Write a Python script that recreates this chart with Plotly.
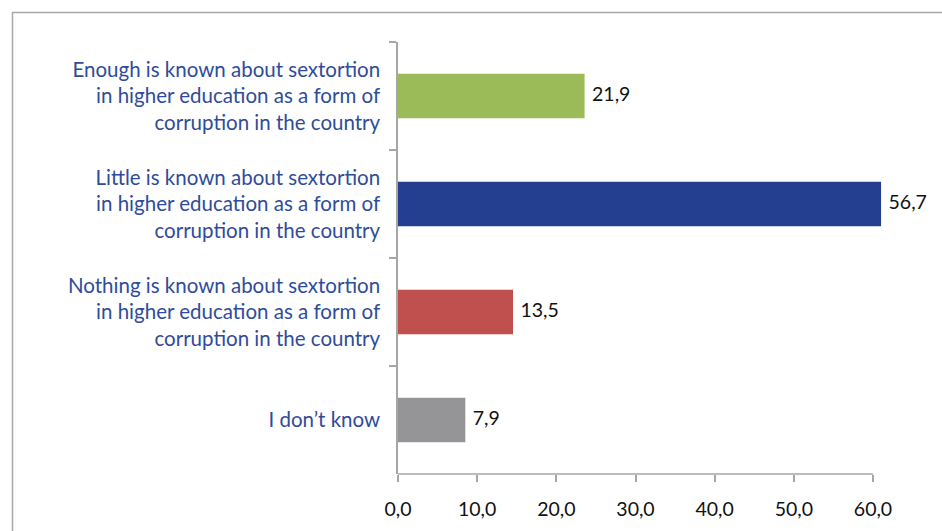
import plotly.graph_objects as go

categories = [
    "Enough is known about sextortion<br>in higher education as a form of<br>corruption in the country",
    "Little is known about sextortion<br>in higher education as a form of<br>corruption in the country",
    "Nothing is known about sextortion<br>in higher education as a form of<br>corruption in the country",
    "I don’t know",
]
values = [21.9, 56.7, 13.5, 7.9]
colors = ["#9BBB59", "#243F8F", "#C0504D", "#959598"]
tick_vals = [0, 10, 20, 30, 40, 50, 60]

# plot area spans pixels 398..940; the value axis reaches 60 at px 873,
# while the bars in the source graphic are drawn at ~8.52 px per unit
PLOT_L, PLOT_R = 398, 940
axis_max = (PLOT_R - PLOT_L) / ((873 - 398) / 60)
bar_max = (PLOT_R - PLOT_L) / 8.52

fig = go.Figure()
fig.add_trace(go.Bar(
    y=categories, x=values, orientation="h",
    marker=dict(color=colors, line=dict(width=0)),
    xaxis="x2", yaxis="y", showlegend=False, hoverinfo="skip",
))
fig.add_trace(go.Scatter(
    y=categories, x=values, mode="text",
    text=[" \u2009" + f"{v:.1f}".replace(".", ",") for v in values],
    textposition="middle right",
    textfont=dict(color="#111111", size=19.5, family="Lato"),
    xaxis="x2", yaxis="y", showlegend=False, hoverinfo="skip",
))
# invisible helper so the visible value axis is drawn
fig.add_trace(go.Scatter(
    x=tick_vals, y=[categories[-1]] * len(tick_vals), mode="markers",
    marker=dict(opacity=0), xaxis="x", yaxis="y",
    showlegend=False, hoverinfo="skip",
))

fig.update_layout(
    width=942, height=531,
    margin=dict(l=PLOT_L, r=942 - PLOT_R, t=42, b=57),
    paper_bgcolor="white", plot_bgcolor="white",
    separators=",.",
    bargap=0.59,
    font=dict(family="Lato", size=19, color="#111111"),
    xaxis=dict(
        range=[0, axis_max], tickvals=tick_vals, tickformat=".1f",
        showgrid=False, zeroline=False, showline=False,
        ticks="outside", ticklen=7, tickcolor="#A6A6A6", tickwidth=1.5,
        ticklabelstandoff=11,
        tickfont=dict(size=19.5, color="#111111"),
        anchor="y", fixedrange=True,
    ),
    xaxis2=dict(
        range=[0, bar_max], overlaying="x", anchor="y", visible=False,
        showgrid=False, zeroline=False,
    ),
    yaxis=dict(
        categoryorder="array", categoryarray=categories,
        autorange="reversed",
        showgrid=False, zeroline=False, showline=True,
        linecolor="#A6A6A6", linewidth=1.5,
        ticks="outside", ticklen=7, tickcolor="#A6A6A6", tickwidth=1.5,
        tickson="boundaries", ticklabelstandoff=12,
        tickfont=dict(size=20.5, color="#2E4C9B"),
    ),
    shapes=[
        dict(
            type="rect", xref="paper", yref="paper",
            x0=-0.8116 * 475 / (PLOT_R - PLOT_L), x1=1.1, y0=-0.3, y1=1.0683,
            line=dict(color="#A8A8A8", width=1.5), fillcolor="rgba(0,0,0,0)",
            layer="below",
        ),
        dict(
            type="line", xref="x", yref="y domain",
            x0=tick_vals[0], x1=tick_vals[-1], y0=0, y1=0,
            line=dict(color="#A6A6A6", width=1.5), layer="above",
        ),
    ],
)

fig.write_html("out.html")
